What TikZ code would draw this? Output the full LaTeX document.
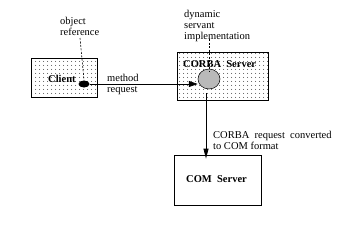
\documentclass[tikz,border=0pt]{standalone}
\usepackage{fontspec}
\setmainfont{Liberation Serif}
\usetikzlibrary{patterns.meta,arrows.meta,shapes.geometric}
\begin{document}
\begin{tikzpicture}[x=1pt,y=-1pt,
  box/.style={draw, line width=0.8pt, inner sep=0pt, pattern={Dots[distance=4pt,radius=0.5pt]}},
  plainbox/.style={draw, line width=0.8pt, inner sep=0pt},
  lbl/.style={font=\fontsize{10.5}{10.8}\selectfont, align=left, anchor=north west, inner sep=0pt},
  title/.style={font=\fontsize{10.5}{11}\selectfont\bfseries, anchor=base west, inner sep=0pt},
  lead/.style={line width=0.6pt, dash pattern=on 2pt off 1.5pt},
  conn/.style={line width=0.8pt}]
\useasboundingbox (0,0) rectangle (342,236);
% boxes
\node[box, minimum width=66pt, minimum height=39pt] (client) at (64,77.5) {};
\node[box, minimum width=91pt, minimum height=48pt] (corba) at (222.5,76) {};
\node[plainbox, minimum width=87pt, minimum height=50pt] (comsrv) at (217.5,180) {};
% titles
\node[title] (clientt) at (48,82) {Client};
\node[title] (corbat) at (183,67) {CORBA\ \ Server};
\node[title] (comt) at (186,182) {COM\ \ Server};
% objects
\node[ellipse, fill=black, minimum width=11pt, minimum height=7pt, inner sep=0pt] (dot) at (84,84) {};
\node[ellipse, draw, line width=0.5pt, fill=gray!55, minimum width=22pt, minimum height=20pt, inner sep=0pt] (servant) at (209,79) {};
% labels
\node[lbl] (objref) at (60,17) {object\\reference};
\node[lbl] (meth) at (107,74) {method\\request};
\node[lbl] (dyn) at (184,10) {dynamic\\servant\\implementation};
\node[lbl] (conv) at (213,131) {CORBA\ \ request\ \ converted\\to COM format};
% leaders
\coordinate (objrefend) at (80,38);
\coordinate (dynend) at (209,39);
\draw[lead] (objrefend) -- (dot.north);
\draw[lead] (dynend) -- ([yshift=-3pt]servant.north);
% connectors
\draw[conn, -{Triangle[length=9pt,width=6pt]}] (dot.east) -- (dot.east -| servant.west);
\draw[conn, -{Triangle[length=10pt,width=5pt]}] ([shift={(-3pt,-4pt)}]servant.south) -- ([shift={(-3pt,-4pt)}]servant.south |- comsrv.north);
\end{tikzpicture}
\end{document}
